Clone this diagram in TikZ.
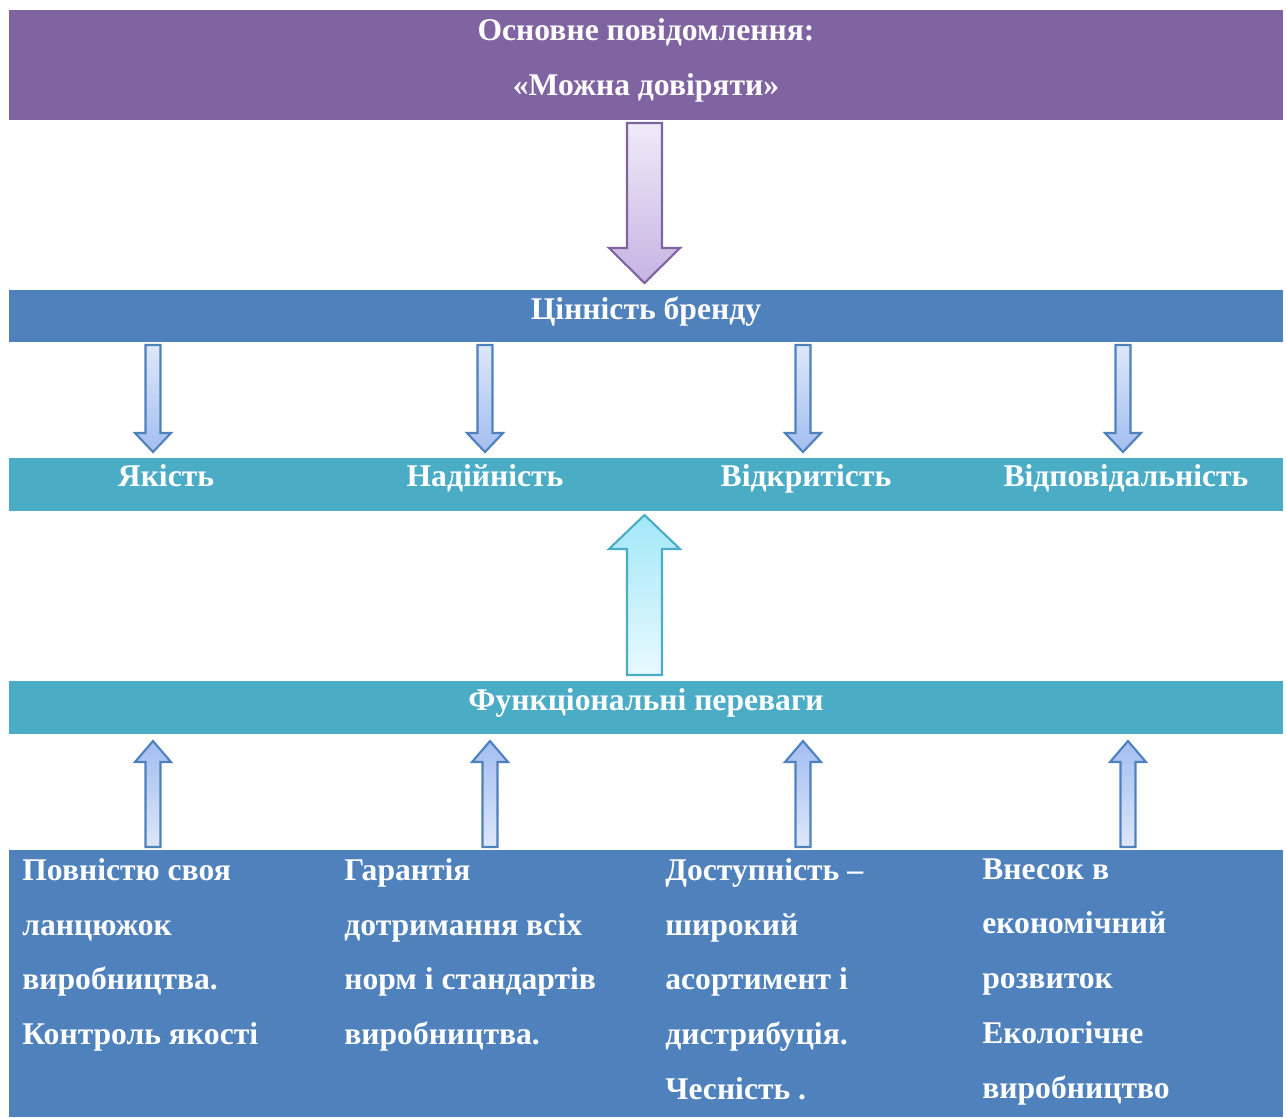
\documentclass[tikz,border=0pt]{standalone}
\usepackage{fontspec}
\setmainfont{Liberation Serif}
\definecolor{offpurple}{HTML}{8064A2}
\definecolor{offblue}{HTML}{4F81BD}
\definecolor{offteal}{HTML}{4BACC6}
\definecolor{purptop}{HTML}{F0EBF8}
\definecolor{purpbot}{HTML}{C6B3E3}
\definecolor{bluelite}{HTML}{DDE7FA}
\definecolor{bluedark}{HTML}{A3BEF0}
\definecolor{tealtop}{HTML}{A3E8F9}
\definecolor{tealbot}{HTML}{E8F9FE}
% block arrow: style, x, y of base, y of neck, y of tip, half shaft, half head
\newcommand{\blockarr}[7]{%
  \path[#1] (#2-#6,#3) -- (#2-#6,#4) -- (#2-#7,#4) -- (#2,#5) -- (#2+#7,#4)
    -- (#2+#6,#4) -- (#2+#6,#3) -- cycle;}
\begin{document}
\begin{tikzpicture}[x=0.02cm,y=-0.02cm,
    bar/.style={inner sep=0, minimum width=25.48cm},
    lbl/.style={text=white, inner sep=0, font=\fontsize{18}{31.2}\selectfont\bfseries},
    one/.style={lbl, text height=0.7em, text depth=0.25em},
    col/.style={lbl, anchor=north west, align=left},
    purparr/.style={draw=offpurple, line width=1.2pt, top color=purptop, bottom color=purpbot},
    bluedown/.style={draw=offblue, line width=1.2pt, top color=bluelite, bottom color=bluedark},
    blueup/.style={draw=offblue, line width=1.2pt, top color=bluedark, bottom color=bluelite},
    tealup/.style={draw=offteal, line width=1.2pt, top color=tealtop, bottom color=tealbot}]
  \useasboundingbox (0,0) rectangle (1286,1117);

  % bars
  \node[bar, fill=offpurple, minimum height=2.2cm] (msg) at (646,65) {};
  \node[bar, fill=offblue, minimum height=1.04cm] (brand) at (646,316) {};
  \node[bar, fill=offteal, minimum height=1.06cm] (values) at (646,484.5) {};
  \node[bar, fill=offteal, minimum height=1.06cm] (func) at (646,707.5) {};
  \node[bar, fill=offblue, minimum height=5.34cm] (base) at (646,983.5) {};

  % texts
  \node[lbl, align=center] (msgtxt) at (646,60) {Основне повідомлення:\\«Можна довіряти»};
  \node[one] (brandtxt) at (646,315.5) {Цінність бренду};
  \node[one] (v1) at (166,482.5) {Якість};
  \node[one] (v2) at (485,482.5) {Надійність};
  \node[one] (v3) at (806,482.5) {Відкритість};
  \node[one] (v4) at (1126,482.5) {Відповідальність};
  \node[one] (functxt) at (646,706.5) {Функціональні переваги};

  \node[col] (c1) at (22,858) {Повністю своя\\ланцюжок\\виробництва.\\Контроль якості};
  \node[col] (c2) at (344,858) {Гарантія\\дотримання всіх\\норм і стандартів\\виробництва.};
  \node[col] (c3) at (665,858) {Доступність –\\широкий\\асортимент і\\дистрибуція.\\Чесність .};
  \node[col] (c4) at (982,858) {Внесок в\\економічний\\розвиток\\Екологічне\\виробництво};

  % arrows
  \blockarr{purparr}{644.5}{123}{248}{283}{17.5}{35.5}
  \foreach \x in {153,485,803,1123}
    {\blockarr{bluedown}{\x}{345}{433}{452}{7.5}{18}}
  \blockarr{tealup}{644.5}{675}{549}{515}{17.5}{35.5}
  \foreach \x in {153,490,803,1128}
    {\blockarr{blueup}{\x}{847}{762}{741}{7.5}{18}}
\end{tikzpicture}
\end{document}
